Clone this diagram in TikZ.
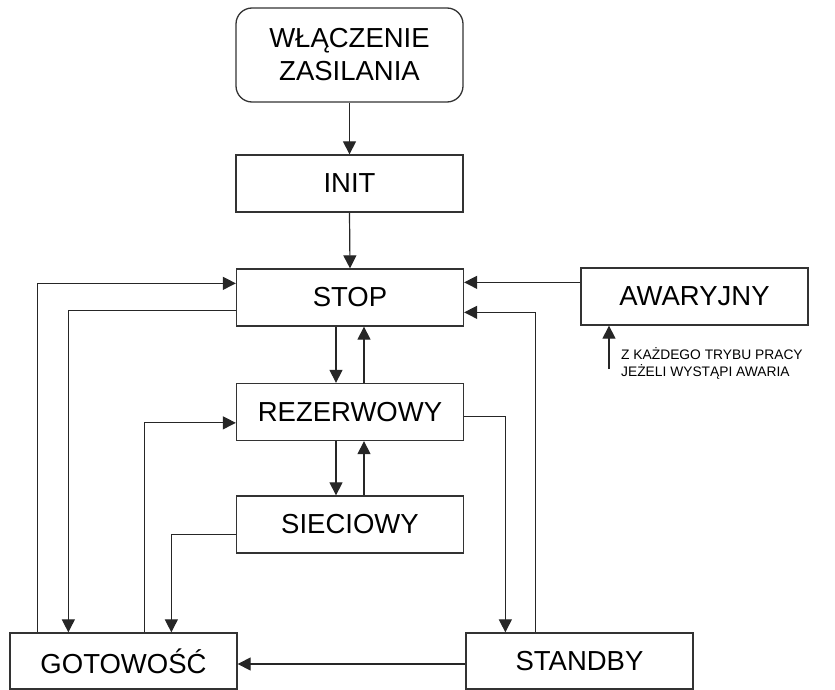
\documentclass[tikz,border=0pt]{standalone}
\usepackage{fontspec}
\setmainfont{Liberation Sans}
\usetikzlibrary{arrows.meta,calc}
\begin{document}
\begin{tikzpicture}[x=1pt,y=-1pt,
  box/.style={draw=black!80,line width=1.3pt,minimum width=227pt,minimum height=57pt,inner sep=0pt,font=\fontsize{27.5}{33}\selectfont,align=center},
  arr/.style={draw=black!85,line width=1.2pt,-{Triangle[length=13pt,width=13pt]}},
  ln/.style={draw=black!85,line width=1.2pt}]
\useasboundingbox (0,0) rectangle (835,690);
\node[box,rounded corners=16pt,minimum height=94pt] (WL) at (349.5,55) {WŁĄCZENIE\\ZASILANIA};
\node[box] (INIT) at (349.5,183.5) {INIT};
\node[box] (STOP) at (350,297.5) {STOP};
\node[box] (REZ) at (350,412) {REZERWOWY};
\node[box] (SIEC) at (350,524.5) {SIECIOWY};
\node[box] (AWAR) at (694.5,296.5) {AWARYJNY};
\node[box,minimum height=56pt] (GOTO) at (123.5,661) {GOTOWOŚĆ};
\node[box,minimum height=56pt] (STBY) at (579.5,661) {STANDBY};
\node[anchor=west,inner sep=0pt,align=left,font=\fontsize{13.8}{17}\selectfont] (LBL) at (621,363) {Z KAŻDEGO TRYBU PRACY\\JEŻELI WYSTĄPI AWARIA};
\coordinate (LS) at (609,369);
% main chain
\draw[arr] (WL.south) -- (INIT.north);
\draw[arr] (INIT.south) -- (STOP.north);
\draw[arr] ([xshift=-14pt]STOP.south) -- ([xshift=-14pt]REZ.north);
\draw[arr] ([xshift=14pt]REZ.north) -- ([xshift=14pt]STOP.south);
\draw[arr] ([xshift=-14pt]REZ.south) -- ([xshift=-14pt]SIEC.north);
\draw[arr] ([xshift=14pt]SIEC.north) -- ([xshift=14pt]REZ.south);
% left loops
\draw[arr] ([xshift=28pt]GOTO.north west) |- ([yshift=-15pt]STOP.north west);
\draw[arr] ([yshift=-42pt]STOP.north west) -| ([xshift=59pt]GOTO.north west);
\draw[arr] ([xshift=135pt]GOTO.north west) |- ([yshift=-40pt]REZ.north west);
\draw[arr] ([yshift=-39pt]SIEC.north west) -| ([xshift=162pt]GOTO.north west);
% right loops
\draw[arr] ([yshift=-34pt]REZ.north east) -| ([xshift=40pt]STBY.north west);
\draw[arr] ([xshift=70pt]STBY.north west) |- ([yshift=-44pt]STOP.north east);
\draw[arr] ([yshift=-15pt]AWAR.north west) coordinate (A1) -- (A1 -| STOP.east);
\draw[arr] (LS) -- (LS |- AWAR.south);
\draw[arr] ([yshift=-3pt]STBY.west) -- ([yshift=-3pt]GOTO.east);
\end{tikzpicture}
\end{document}
